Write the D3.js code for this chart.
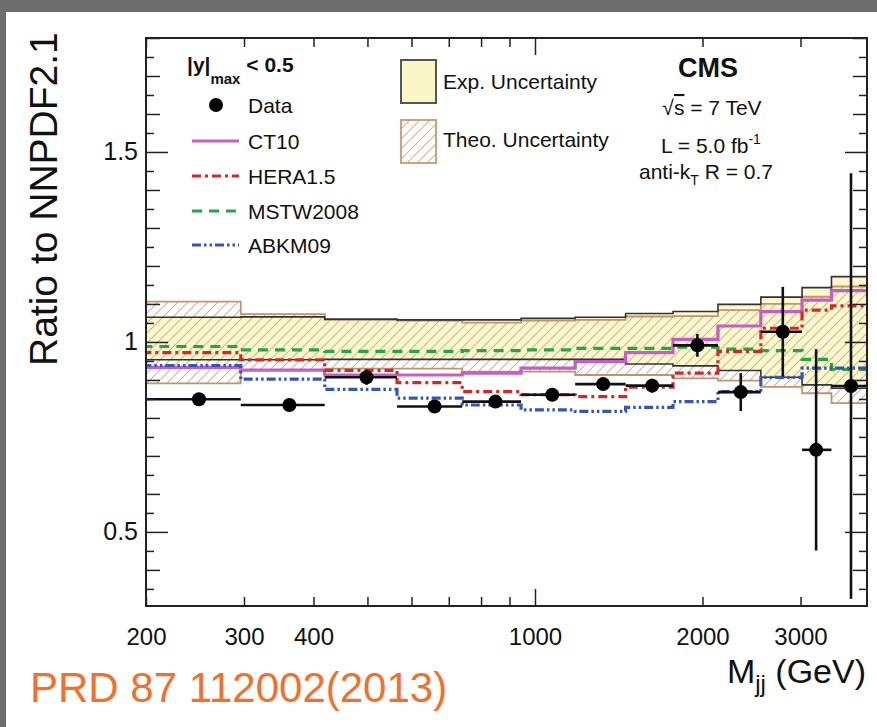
<!DOCTYPE html>
<html><head><meta charset="utf-8">
<script src="https://cdn.jsdelivr.net/npm/d3@7"></script>
<style>
body{margin:0;background:#fff}
svg{display:block}
text{font-family:"Liberation Sans",Arial,Helvetica,sans-serif;fill:#111}
</style>
</head><body>
<svg id="c" width="877" height="727"></svg>
<script>
// ---- data ----
const binEdges = [197, 296, 419, 565, 740, 944, 1181, 1455, 1770, 2132, 2546, 3019, 3410, 3950];
const expUp  = [1.065, 1.066, 1.060, 1.058, 1.058, 1.062, 1.065, 1.075, 1.080, 1.099, 1.118, 1.143, 1.172];
const expLo  = [0.953, 0.953, 0.954, 0.954, 0.954, 0.954, 0.954, 0.942, 0.937, 0.925, 0.907, 0.887, 0.878];
const theoUp = [1.106, 1.073, 1.058, 1.056, 1.051, 1.056, 1.058, 1.067, 1.068, 1.084, 1.100, 1.119, 1.146];
const theoLo = [0.891, 0.926, 0.930, 0.930, 0.922, 0.922, 0.913, 0.913, 0.904, 0.898, 0.882, 0.865, 0.839];
const ct10   = [0.933, 0.926, 0.913, 0.913, 0.918, 0.931, 0.948, 0.972, 1.007, 1.042, 1.080, 1.110, 1.135];
const hera15 = [0.972, 0.953, 0.925, 0.893, 0.869, 0.861, 0.856, 0.881, 0.918, 0.975, 1.036, 1.084, 1.095];
const mstw08 = [0.988, 0.979, 0.975, 0.975, 0.977, 0.979, 0.983, 0.983, 0.986, 0.981, 0.977, 0.954, 0.928];
const abkm09 = [0.938, 0.902, 0.875, 0.852, 0.834, 0.821, 0.817, 0.828, 0.843, 0.869, 0.907, 0.931, 0.931];
const dataMass = [249, 362, 498, 660, 849, 1074, 1326, 1624, 1958, 2343, 2788, 3200, 3697];
const dataVal  = [0.849, 0.834, 0.907, 0.830, 0.843, 0.861, 0.889, 0.885, 0.991, 0.868, 1.027, 0.716, 0.884];
const dataErr  = [0.010, 0.012, 0.020, 0.015, 0.012, 0.012, 0.015, 0.018, 0.030, 0.050, 0.118, 0.265, 0.560];
const xTickVals   = [200, 300, 400, 500, 600, 700, 800, 900, 2000, 3000];
const xMajorTicks = [1000];
const xLabelVals  = [200, 300, 400, 1000, 2000, 3000];
const yLabelVals  = [0.5, 1, 1.5];
const seriesNames = ["CT10", "HERA1.5", "MSTW2008", "ABKM09"];

// ---- layout ----
const L = 146, R = 867, T = 38, B = 606;
const svg = d3.select("#c");
const x = d3.scaleLog().domain([200, 3950]).range([L, R]);
const y = d3.scaleLinear().domain([0.305, 1.8]).range([B, T]);

// page border (grey strips of the screenshot)
svg.append("rect").attr("x",0).attr("y",0).attr("width",877).attr("height",12).attr("fill","#6e6e6e");
svg.append("rect").attr("x",0).attr("y",0).attr("width",6).attr("height",727).attr("fill","#6e6e6e");

const defs = svg.append("defs");
defs.append("clipPath").attr("id","clip").append("rect")
  .attr("x",L).attr("y",T).attr("width",R-L).attr("height",B-T);
const pat = defs.append("pattern").attr("id","hatch").attr("patternUnits","userSpaceOnUse")
  .attr("width",10).attr("height",10);
pat.append("path").attr("d","M-2,2 L2,-2 M0,10 L10,0 M8,12 L12,8")
  .attr("stroke","#d4b292").attr("stroke-width",1.1).attr("fill","none");

const colors = {ct10:"#c35ec3", hera:"#d42828", mstw:"#27a545", abkm:"#3556b4"};
const dashes = {ct10:null, hera:"9,4,3,4", mstw:"10,7", abkm:"9,3,2.5,3,2.5,3"};

function stepPts(vals){
  const p = vals.map((v,i)=>[binEdges[i], v]);
  p.push([binEdges[binEdges.length-1], vals[vals.length-1]]);
  return p;
}
const stepLine = d3.line().x(d=>x(d[0])).y(d=>y(d[1])).curve(d3.curveStepAfter);
function bandPts(lo, up){
  const p = lo.map((v,i)=>({e:binEdges[i], lo:v, up:up[i]}));
  p.push({e:binEdges[binEdges.length-1], lo:lo[lo.length-1], up:up[up.length-1]});
  return p;
}
const bandArea = d3.area().x(d=>x(d.e)).y0(d=>y(d.lo)).y1(d=>y(d.up)).curve(d3.curveStepAfter);

const plot = svg.append("g").attr("clip-path","url(#clip)");

// exp band fill
plot.append("path").attr("d", bandArea(bandPts(expLo, expUp))).attr("fill","#faf8cc");
// theo band hatch
plot.append("path").attr("d", bandArea(bandPts(theoLo, theoUp))).attr("fill","url(#hatch)");
// outlines
[[theoUp,"#bf9470"],[theoLo,"#bf9470"]].forEach(([v,c])=>{
  plot.append("path").attr("d", stepLine(stepPts(v))).attr("fill","none")
    .attr("stroke",c).attr("stroke-width",1.8);
});
[[expUp,"#333"],[expLo,"#333"]].forEach(([v,c])=>{
  plot.append("path").attr("d", stepLine(stepPts(v))).attr("fill","none")
    .attr("stroke",c).attr("stroke-width",1.6);
});

// PDF lines
[[mstw08,"mstw"],[ct10,"ct10"],[hera15,"hera"],[abkm09,"abkm"]].forEach(([v,k])=>{
  plot.append("path").attr("d", stepLine(stepPts(v))).attr("fill","none")
    .attr("stroke",colors[k]).attr("stroke-width",3.2)
    .attr("stroke-dasharray",dashes[k]);
});

// data
const dg = plot.append("g");
dataVal.forEach((v,i)=>{
  dg.append("line").attr("x1",x(binEdges[i])).attr("x2",x(binEdges[i+1]))
    .attr("y1",y(v)).attr("y2",y(v)).attr("stroke","#111").attr("stroke-width",2.6);
  dg.append("line").attr("x1",x(dataMass[i])).attr("x2",x(dataMass[i]))
    .attr("y1",y(v-dataErr[i])).attr("y2",y(v+dataErr[i])).attr("stroke","#111").attr("stroke-width",2.6);
  dg.append("circle").attr("cx",x(dataMass[i])).attr("cy",y(v)).attr("r",7).attr("fill","#000");
});

// ---- frame and axes ----
svg.append("rect").attr("x",L).attr("y",T).attr("width",R-L).attr("height",B-T)
  .attr("fill","none").attr("stroke","#222").attr("stroke-width",2);

function styleAxis(g){
  g.select(".domain").remove();
  g.selectAll(".tick line").attr("stroke","#222").attr("stroke-width",1.5);
}
function addAx(axis, tx, ty){
  return svg.append("g").attr("transform",`translate(${tx},${ty})`).call(axis).call(styleAxis);
}
// x ticks bottom and top
addAx(d3.axisTop(x).tickValues(xTickVals).tickSize(9).tickFormat(""), 0, B);
addAx(d3.axisTop(x).tickValues(xMajorTicks).tickSize(17).tickFormat(""), 0, B);
addAx(d3.axisBottom(x).tickValues(xTickVals).tickSize(9).tickFormat(""), 0, T);
addAx(d3.axisBottom(x).tickValues(xMajorTicks).tickSize(17).tickFormat(""), 0, T);
// x labels
const xl = addAx(d3.axisBottom(x).tickValues(xLabelVals).tickSize(0).tickPadding(22).tickFormat(d3.format("d")), 0, B);
xl.selectAll("text").attr("font-size",24).style("font-family",'"Liberation Sans",Arial,sans-serif').attr("fill","#111");

// y ticks
const yFine = d3.range(0.35, 1.80, 0.05).map(v=>+v.toFixed(2));
const yTenth = yFine.filter(v=>Math.abs(v*10-Math.round(v*10))<1e-6);
const yHalf = yLabelVals;
const ySmall = yFine.filter(v=>!yTenth.includes(v));
const yMid = yTenth.filter(v=>!yHalf.includes(v));
[[ySmall,8],[yMid,14],[yHalf,22]].forEach(([vals,len])=>{
  addAx(d3.axisRight(y).tickValues(vals).tickSize(len).tickFormat(""), L, 0);
  addAx(d3.axisLeft(y).tickValues(vals).tickSize(len).tickFormat(""), R, 0);
});
const yl = addAx(d3.axisLeft(y).tickValues(yLabelVals).tickSize(0).tickPadding(8)
  .tickFormat(d=> d===1 ? "1" : d3.format(".1f")(d)), L, 0);
yl.selectAll("text").attr("font-size",25).style("font-family",'"Liberation Sans",Arial,sans-serif').attr("fill","#111");

// axis titles
svg.append("text").attr("transform","translate(57,366) rotate(-90)")
  .attr("font-size",39).attr("text-anchor","start").text("Ratio to NNPDF2.1");
const xt = svg.append("text").attr("x",866).attr("y",683).attr("font-size",34).attr("text-anchor","end");
xt.append("tspan").text("M");
xt.append("tspan").attr("font-size",24).attr("dy",9).text("jj");
xt.append("tspan").attr("dy",-9).text(" (GeV)");

// ---- legend (left) ----
const lt = svg.append("text").attr("x",187).attr("y",72).attr("font-size",21).attr("font-weight","bold");
lt.append("tspan").text("|y|");
lt.append("tspan").attr("font-size",15).attr("dy",12).text("max");
lt.append("tspan").attr("dy",-12).text(" < 0.5");

const legY = [105, 141, 176, 211, 245];
svg.append("circle").attr("cx",216).attr("cy",legY[0]).attr("r",7).attr("fill","#000");
svg.append("text").attr("x",248).attr("y",legY[0]+7.5).attr("font-size",21).text("Data");
["ct10","hera","mstw","abkm"].forEach((k,i)=>{
  const yy = legY[i+1];
  svg.append("line").attr("x1",192).attr("x2",239).attr("y1",yy).attr("y2",yy)
    .attr("stroke",colors[k]).attr("stroke-width",3.2).attr("stroke-dasharray",dashes[k]);
  svg.append("text").attr("x",248).attr("y",yy+7.5).attr("font-size",21).text(seriesNames[i]);
});

// ---- legend (middle) ----
svg.append("rect").attr("x",401).attr("y",60).attr("width",35).attr("height",43)
  .attr("fill","#f9f6c6").attr("stroke","#555").attr("stroke-width",2);
svg.append("text").attr("x",443).attr("y",89).attr("font-size",21).text("Exp. Uncertainty");
svg.append("rect").attr("x",401).attr("y",120).attr("width",35).attr("height",43)
  .attr("fill","url(#hatch)").attr("stroke","#c9a27e").attr("stroke-width",2);
svg.append("text").attr("x",443).attr("y",147).attr("font-size",21).text("Theo. Uncertainty");

// ---- CMS labels (right) ----
svg.append("text").attr("x",708).attr("y",77).attr("font-size",27).attr("font-weight","bold")
  .attr("text-anchor","middle").text("CMS");
const t1 = svg.append("text").attr("x",712).attr("y",115).attr("font-size",21).attr("text-anchor","middle");
t1.append("tspan").text("√");
t1.append("tspan").style("text-decoration","overline").text("s");
t1.append("tspan").text(" = 7 TeV");
const t2 = svg.append("text").attr("x",711).attr("y",153).attr("font-size",21).attr("text-anchor","middle");
t2.append("tspan").text("L = 5.0 fb");
t2.append("tspan").attr("font-size",14).attr("dy",-9).text("-1");
const t3 = svg.append("text").attr("x",706).attr("y",179).attr("font-size",21).attr("text-anchor","middle");
t3.append("tspan").text("anti-k");
t3.append("tspan").attr("font-size",14).attr("dy",6).text("T");
t3.append("tspan").attr("dy",-6).text(" R = 0.7");

// ---- reference note ----
svg.append("text").attr("x",30).attr("y",702).attr("font-size",42).attr("fill","#f0702c")
  .style("fill","#f0702c").text("PRD 87 112002(2013)");
</script>
</body></html>
